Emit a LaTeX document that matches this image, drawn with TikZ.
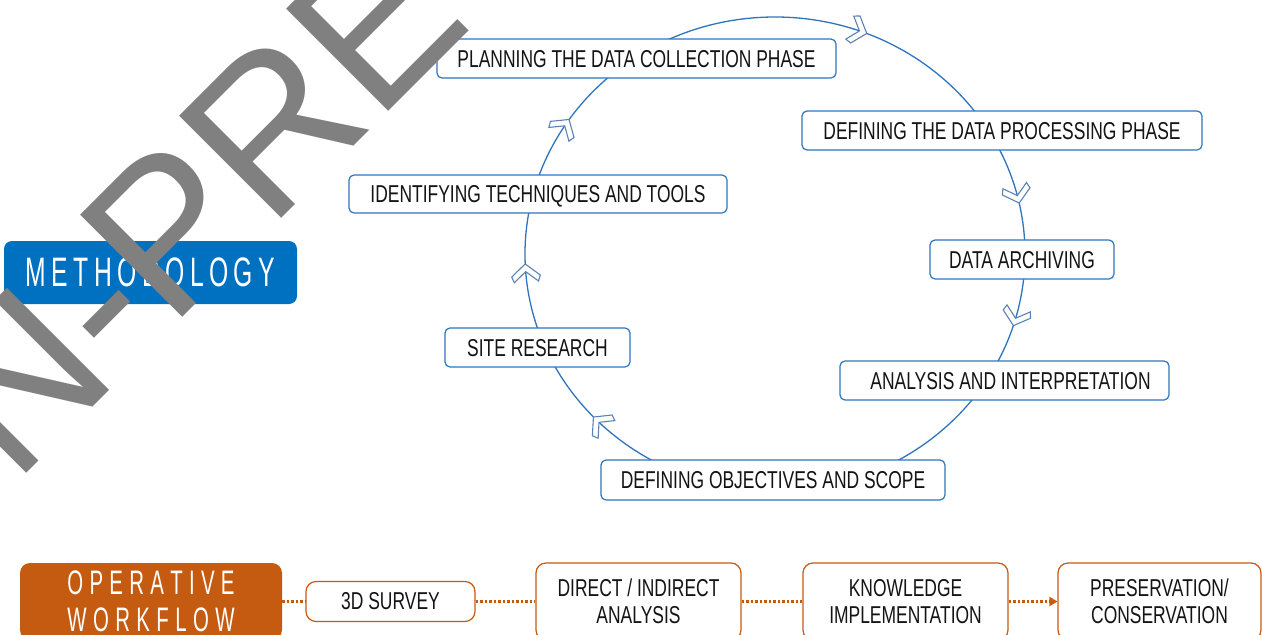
\documentclass[tikz,border=0pt]{standalone}
\usepackage{fontspec}
\setmainfont{Liberation Sans}
\newfontfamily\boxfont{Liberation Sans}[FakeStretch=0.715]
\newfontfamily\titlefont{Liberation Sans}[FakeStretch=0.6]
\usetikzlibrary{arrows.meta}

\definecolor{methblue}{RGB}{0,112,192}
\definecolor{cycblue}{RGB}{46,117,190}
\definecolor{chevblue}{RGB}{90,130,180}
\definecolor{wforange}{RGB}{197,90,17}
\definecolor{textdark}{RGB}{20,20,20}
\definecolor{wmgray}{RGB}{128,128,128}

% letter-spaced capitals: \spacedcaps{<gap>}{<WORD>}
\makeatletter
\newcommand\spacedcaps[2]{\def\spc@gap{#1}\spc@go#2\relax}
\def\spc@go#1{#1\@ifnextchar\relax{\@gobble}{\kern\spc@gap\spc@go}}
\makeatother

\tikzset{
  stage/.style={draw=cycblue, line width=1.2pt, fill=white, rounded corners=5pt,
    inner sep=0pt, text=textdark, font=\boxfont\fontsize{24.4}{27}\selectfont,
    text height=17.5pt, text depth=0pt},
  cycleline/.style={draw=cycblue, line width=1.3pt},
  chevron/.style={draw=chevblue, fill=white, line width=1.1pt, line join=miter},
  chev/.pic={\path[chevron, scale=1.1] (6,0) -- (-5,13) -- (-10.35,11.05) -- (-1,0)
      -- (-10.35,-11.05) -- (-5,-13) -- cycle;},
  titlebox/.style={rounded corners=8pt, inner sep=0pt, text=white, align=center},
  workbox/.style={draw=wforange, line width=1.2pt, fill=white, rounded corners=10pt,
    inner sep=0pt, text=textdark, align=center,
    font=\boxfont\fontsize{24.4}{27}\selectfont},
  wflink/.style={draw=wforange, line width=2.2pt, dash pattern=on 2.5pt off 2pt},
}

\begin{document}
\begin{tikzpicture}[x=1pt,y=-1pt]
\useasboundingbox (0,0) rectangle (1262,635);
\begin{scope}
\clip (0,0) rectangle (1262,635);
\fill[white] (0,0) rectangle (1262,635);

% the methodology cycle
\draw[cycleline] (775,254) ellipse [x radius=250, y radius=237];
\foreach \tpar in {-70,-14,16,135,176,213} {
  \pgfmathsetmacro\ang{atan2(-237*cos(\tpar), -250*sin(\tpar))}
  \pic[rotate=\ang] at ({775+250*cos(\tpar)}, {254+237*sin(\tpar)}) {chev};
}

\node[stage, minimum width=399, minimum height=39] (plan) at (636.5,58.5) {PLANNING THE DATA COLLECTION PHASE};
\node[stage, minimum width=400, minimum height=39] (proc) at (1002,130.5) {DEFINING THE DATA PROCESSING PHASE};
\node[stage, minimum width=184, minimum height=39] (arch) at (1022,259.5) {DATA ARCHIVING};
\node[stage, minimum width=329, minimum height=39] (anal) at (1004.5,380.5) {\hspace{12pt}ANALYSIS AND INTERPRETATION};
\node[stage, minimum width=344, minimum height=40] (obj) at (773,480) {DEFINING OBJECTIVES AND SCOPE};
\node[stage, minimum width=185, minimum height=39] (site) at (537.5,347.5) {SITE RESEARCH};
\node[stage, minimum width=378, minimum height=38] (tech) at (538,194) {IDENTIFYING TECHNIQUES AND TOOLS};

% section labels
\node[titlebox, fill=methblue, minimum width=293, minimum height=63,
  font=\titlefont\fontsize{41.2}{44}\selectfont] (meth) at (150.5,272.5)
  {\spacedcaps{5.4pt}{METHODOLOGY}};
\node[titlebox, fill=wforange, rounded corners=10pt, minimum width=262, minimum height=77,
  font=\titlefont\fontsize{34}{37}\selectfont] (ow) at (151,601.5)
  {\spacedcaps{6.3pt}{OPERATIVE}\\\spacedcaps{6.4pt}{WORKFLOW}};

% operative workflow chain
\node[workbox, minimum width=169, minimum height=40] (s3d) at (390.5,601.5) {3D SURVEY};
\node[workbox, minimum width=205, minimum height=77] (dir) at (638.5,601.5) {DIRECT / INDIRECT\\ANALYSIS};
\node[workbox, minimum width=205, minimum height=77] (know) at (905.5,601.5) {KNOWLEDGE\\IMPLEMENTATION};
\node[workbox, minimum width=203, minimum height=77] (pres) at (1159.5,601.5) {PRESERVATION/\\CONSERVATION};

\draw[wflink] (ow.east) -- (s3d.west);
\draw[wflink] (s3d.east) -- (dir.west);
\draw[wflink] (dir.east) -- (know.west);
\draw[wflink, -{Triangle[length=8pt,width=9pt]}] (know.east) -- (pres.west);

% watermark lettering
\node[rotate=45, anchor=base west, inner sep=0pt, text=wmgray,
  font=\fontsize{210}{210}\selectfont] (wm) at (13.9,486.1) {N-PRE};
\end{scope}
\end{tikzpicture}
\end{document}
